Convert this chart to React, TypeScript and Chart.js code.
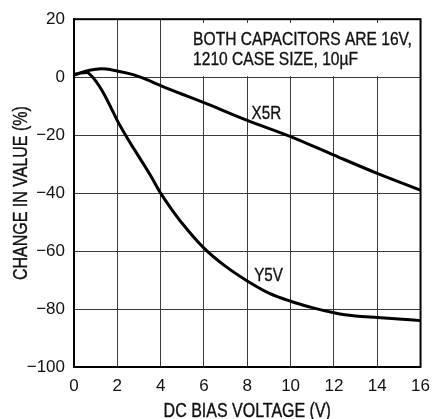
import React, { useEffect, useRef } from "react";
import { Chart, registerables } from "chart.js";

Chart.register(...registerables);

// ---- data ----
const biasX5R = [0, 0.5, 1, 1.25, 1.5, 2, 2.5, 3, 3.5, 4, 5, 6, 8, 10, 12, 14, 16];
const changeX5R = [0.8, 2.0, 2.7, 2.9, 2.8, 2.1, 1.3, 0.2, -1.3, -2.9, -5.9, -8.8, -14.9, -20.5, -26.9, -33.2, -39];

const biasY5V = [0, 0.3, 0.6, 0.8, 1.0, 1.3, 1.7, 2, 2.5, 3, 3.5, 4, 4.5, 5, 6, 7, 8, 9, 10, 11, 12, 12.5, 13, 14, 15, 16];
const changeY5V = [0.8, 1.4, 1.6, 0.5, -1.3, -4.7, -10.4, -15, -21.5, -27.5, -33.5, -40, -45.5, -50.5, -59, -65.3, -70.3, -74.5, -77.3, -79.5, -81.3, -82, -82.4, -82.9, -83.4, -84];

const seriesNames = ["X5R", "Y5V"];
const noteLines = ["BOTH CAPACITORS ARE 16V,", "1210 CASE SIZE, 10\u00B5F"];
const xTitle = "DC BIAS VOLTAGE (V)";
const yTitle = "CHANGE IN VALUE (%)";

const REGULAR = "'Liberation Sans', Arial, Helvetica, sans-serif";
const NARROW_SCALE = 0.82;
const INK = "#111";

function drawNarrow(
  ctx: CanvasRenderingContext2D,
  text: string,
  x: number,
  y: number,
  size: number,
  align: CanvasTextAlign,
  angle = 0
) {
  ctx.save();
  ctx.translate(x, y);
  if (angle) ctx.rotate(angle);
  ctx.scale(NARROW_SCALE, 1);
  ctx.font = `${size}px ${REGULAR}`;
  ctx.fillStyle = INK;
  ctx.strokeStyle = INK;
  ctx.lineWidth = 0.35;
  ctx.textAlign = align;
  ctx.textBaseline = "alphabetic";
  ctx.fillText(text, 0, 0);
  ctx.strokeText(text, 0, 0);
  ctx.restore();
}

const annotationPlugin = {
  id: "annotations",
  beforeDatasetsDraw(chart: any) {
    const { ctx, scales } = chart;
    const x = scales.x;
    const y = scales.y;
    ctx.save();
    // white note box hiding the grid
    const l = x.getPixelForValue(5.0);
    const r = x.getPixelForValue(16) - 1.5;
    const t = y.getPixelForValue(18.7);
    const b = y.getPixelForValue(0) - 1;
    ctx.fillStyle = "#fff";
    ctx.fillRect(l, t, r - l, b - t);
    ctx.restore();
    drawNarrow(ctx, noteLines[0], x.getPixelForValue(5.5), y.getPixelForValue(11.2), 19, "left");
    drawNarrow(ctx, noteLines[1], x.getPixelForValue(5.5), y.getPixelForValue(4.17), 19, "left");
  },
  afterDatasetsDraw(chart: any) {
    const { ctx, scales, chartArea } = chart;
    const x = scales.x;
    const y = scales.y;
    drawNarrow(ctx, seriesNames[0], x.getPixelForValue(8.88), y.getPixelForValue(-14.4), 18.5, "center");
    drawNarrow(ctx, seriesNames[1], x.getPixelForValue(8.98), y.getPixelForValue(-70.26), 18.5, "center");
    // frame
    ctx.save();
    ctx.strokeStyle = "#000";
    ctx.lineWidth = 2;
    ctx.strokeRect(chartArea.left, chartArea.top, chartArea.right - chartArea.left, chartArea.bottom - chartArea.top);
    ctx.restore();
    // axis titles
    drawNarrow(ctx, xTitle, (x.left + x.right) / 2, x.bottom - 2.5, 19.5, "center");
    drawNarrow(ctx, yTitle, y.left + 26.7, (y.top + y.bottom) / 2, 19.5, "center", -Math.PI / 2);
  },
};

export default function App() {
  const ref = useRef<HTMLCanvasElement | null>(null);

  useEffect(() => {
    if (!ref.current) return;
    const toPts = (xs: number[], ys: number[]) => xs.map((v, i) => ({ x: v, y: ys[i] }));
    const chart = new Chart(ref.current, {
      type: "line",
      data: {
        datasets: [
          {
            label: seriesNames[0],
            data: toPts(biasX5R, changeX5R),
            borderColor: "#000",
            borderWidth: 3,
            pointRadius: 0,
            cubicInterpolationMode: "monotone",
            fill: false,
          },
          {
            label: seriesNames[1],
            data: toPts(biasY5V, changeY5V),
            borderColor: "#000",
            borderWidth: 3,
            pointRadius: 0,
            cubicInterpolationMode: "monotone",
            fill: false,
          },
        ],
      },
      options: {
        animation: false,
        responsive: false,
        devicePixelRatio: 1,
        layout: { padding: { top: 16, right: 12, left: 0, bottom: 0 } },
        plugins: { legend: { display: false }, tooltip: { enabled: false } },
        scales: {
          x: {
            type: "linear",
            min: 0,
            max: 16,
            ticks: { stepSize: 2, padding: 9, color: INK, font: { family: REGULAR, size: 17 } },
            grid: { color: "#3a3a3a", lineWidth: 1, drawTicks: false },
            border: { color: "#000", width: 2 },
            title: { display: false },
            afterFit(scale: any) {
              scale.height = 52;
            },
          },
          y: {
            type: "linear",
            min: -100,
            max: 20,
            ticks: {
              stepSize: 20,
              padding: 9,
              color: INK,
              font: { family: REGULAR, size: 17 },
              callback: (v: any) => String(v).replace("-", "\u2212"),
            },
            grid: { color: "#3a3a3a", lineWidth: 1, drawTicks: false },
            border: { color: "#000", width: 2 },
            title: { display: false },
            afterFit(scale: any) {
              scale.width = 74;
            },
          },
        },
      },
      plugins: [annotationPlugin],
    } as any);
    return () => chart.destroy();
  }, []);

  return (
    <div style={{ position: "absolute", left: 0, top: 0, width: 439, height: 419, background: "#fff" }}>
      <canvas ref={ref} width={439} height={419} style={{ display: "block" }} />
    </div>
  );
}
